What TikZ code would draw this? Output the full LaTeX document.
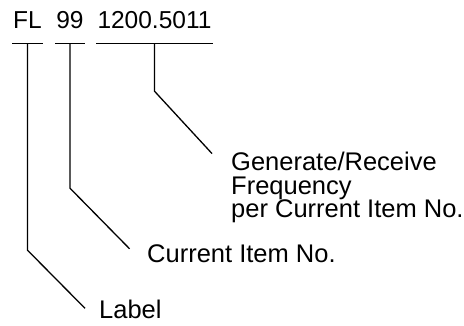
\documentclass[tikz,border=0pt]{standalone}
\usepackage{fontspec}
\setmainfont{Liberation Sans}

\begin{document}
\begin{tikzpicture}[x=1pt,y=-1pt]
    \tikzset{campo/.style = {font=\fontsize{24.5}{23.5}\selectfont,anchor=base,inner xsep=1pt,inner ysep=15pt,text depth=0pt}}
    \tikzset{etiqueta/.style = {font=\fontsize{25.5}{23.5}\selectfont,inner sep=2pt,align=left}}
    \tikzset{guia/.style = {line width=1.3pt,line join=round}}
    \tikzset{raya/.style = {line width=1.4pt}}

    \useasboundingbox (0,0) rectangle (464,325);

    \node[campo] (fl) at (27.5,28) {FL};
    \node[campo] (num) at (70,28) {99};
    \node[campo] (freq) at (154.5,28) {1200.5011};

    \node[etiqueta,anchor=north west] (gen) at (229,150) {Generate/Receive\\Frequency\\per Current Item No.};
    \node[etiqueta,anchor=base west] (cur) at (145,262) {Current Item No.};
    \node[etiqueta,anchor=base west] (lbl) at (97,318) {Label};

    \draw [raya] (fl.south west) -- (fl.south east);
    \draw [raya] (num.south west) -- (num.south east);
    \draw [raya] (freq.south west) -- (freq.south east);

    \draw [guia,shorten >=25pt] (freq.south) -- ++(0,48) -- ([yshift=-22pt]gen.north west);
    \draw [guia,shorten >=22pt] (num.south) -- ++(0,145) -- (cur.south west);
    \draw [guia,shorten >=17pt] (fl.south) -- ++(0,207) -- (lbl.south west);
\end{tikzpicture}
\end{document}
